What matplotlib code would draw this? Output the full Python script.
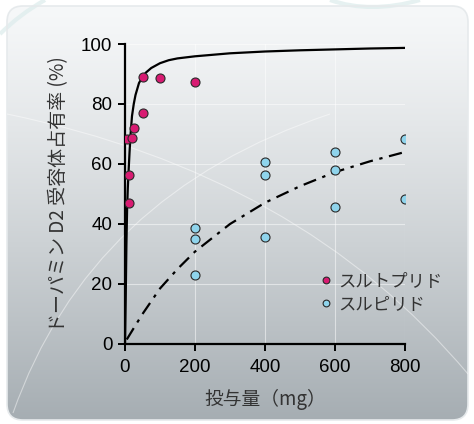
import numpy as np
import matplotlib.pyplot as plt
from matplotlib.patches import FancyBboxPatch, PathPatch
from matplotlib.path import Path

plt.rcParams['font.family'] = ['Liberation Sans', 'Noto Sans CJK JP', 'DejaVu Sans']

# observed occupancy (%) vs dose (mg)
sultopride_dose = [5, 20, 25, 10, 10, 50, 50, 100, 200]
sultopride_occ = [68.2, 68.7, 72.1, 56.2, 47.0, 76.9, 89.1, 88.6, 87.4]
sulpiride_dose = [200, 200, 200, 400, 400, 400, 600, 600, 600, 800, 800]
sulpiride_occ = [38.7, 35.0, 23.1, 60.6, 56.2, 35.6, 64.1, 57.9, 45.7, 68.2, 48.2]

# fitted curves
fit1_dose = [0, 2, 4, 6, 8, 10, 13, 16, 20, 25, 30, 40, 50, 60, 75, 100, 125, 150,
             200, 300, 400, 500, 600, 700, 800]
fit1_occ = [0, 15, 33, 45, 52, 57, 64, 70, 76, 80, 83, 87, 89, 90.5, 92, 93.6, 94.6,
            95.2, 95.9, 96.9, 97.5, 97.9, 98.2, 98.5, 98.7]
fit2_dose = [5, 25, 50, 100, 150, 200, 300, 400, 500, 600, 700, 800]
fit2_occ = [1.5, 5.3, 10.0, 18.5, 25.0, 30.8, 40.0, 47.1, 52.6, 57.3, 60.9, 64.0]

legend_labels = ['スルトプリド', 'スルピリド']
xticks = [0, 200, 400, 600, 800]
yticks = [0, 20, 40, 60, 80, 100]

fig = plt.figure(figsize=(4.74, 4.24), dpi=100, facecolor='white')

# background panel with vertical gradient (pixel coords, y up)
bg = fig.add_axes([0, 0, 1, 1])
bg.set_xlim(0, 474)
bg.set_ylim(0, 424)
bg.axis('off')

# faint decorative strokes outside the panel
for verts in [[(0, 390), (20, 410), (45, 424)], [(330, 424), (370, 410), (420, 424)]]:
    bg.add_patch(PathPatch(Path(verts, [Path.MOVETO, Path.CURVE3, Path.CURVE3]),
                           fc='none', ec='#dcecec', lw=3, alpha=0.7))

panel = FancyBboxPatch((7, 4), 461, 414, boxstyle='round,pad=0,rounding_size=16',
                       fc='none', ec='#e6eaec', lw=1.2)
bg.add_patch(panel)
grad = np.linspace(0, 1, 256).reshape(-1, 1)
top = np.array([0.965, 0.972, 0.976])
bottom = np.array([0.650, 0.680, 0.700])
img = top + (bottom - top) * grad[:, :, None] ** 1.2
im = bg.imshow(img, extent=[7, 468, 4, 418], origin='upper', aspect='auto')
im.set_clip_path(panel)

# light sweeping curves across the panel
for verts in [[(13, 11), (90, 230), (330, 310)], [(7, 310), (300, 250), (468, 50)]]:
    p = PathPatch(Path(verts, [Path.MOVETO, Path.CURVE3, Path.CURVE3]),
                  fc='none', ec='white', lw=0.8, alpha=0.45)
    bg.add_patch(p)
    p.set_clip_path(panel)

ax = fig.add_axes([125 / 474, 80 / 424, 280 / 474, 300 / 424])
ax.patch.set_alpha(0)

ax.plot(fit1_dose, fit1_occ, color='black', lw=1.6, zorder=2)
ax.plot(fit2_dose, fit2_occ, color='black', lw=1.6, ls=(0, (6, 3, 1.5, 3)), zorder=2)
ax.plot(sultopride_dose, sultopride_occ, 'o', ms=6.5, mfc='#d81b72', mec='#2a2a2a',
        mew=0.8, label=legend_labels[0], zorder=3)
ax.plot(sulpiride_dose, sulpiride_occ, 'o', ms=6.5, mfc='#8fd4ec', mec='#2a2a2a',
        mew=0.8, label=legend_labels[1], zorder=3)

ax.set_xlim(0, 800)
ax.set_ylim(0, 100)
ax.set_xticks(xticks)
ax.set_yticks(yticks)
ax.grid(True, color='white', lw=0.8, alpha=0.5)
ax.set_axisbelow(True)
for s in ['top', 'right']:
    ax.spines[s].set_visible(False)
for s in ['left', 'bottom']:
    ax.spines[s].set_linewidth(1.6)
    ax.spines[s].set_color('black')
ax.tick_params(length=5, width=1.4, colors='black')
ax.tick_params(axis='x', pad=6)
ax.tick_params(axis='y', pad=4)
for lab in ax.get_xticklabels() + ax.get_yticklabels():
    lab.set_fontfamily('Liberation Sans')
    lab.set_fontsize(13.5)

ax.set_xlabel('投与量（mg）', fontsize=13.5, color='#333333', labelpad=9,
              family=['Noto Sans CJK JP'])
ax.set_ylabel('ドーパミン D2 受容体占有率 (%)', fontsize=13.7, color='#333333',
              labelpad=9, family=['Noto Sans CJK JP', 'DejaVu Sans'])

leg = ax.legend(loc='lower right', bbox_to_anchor=(1.19, 0.05), frameon=False,
                markerscale=0.75, handlelength=0.6, handletextpad=0.4,
                labelspacing=0.3, prop={'family': 'Noto Sans CJK JP', 'size': 12.5})
for t in leg.get_texts():
    t.set_color('#333333')

fig.savefig('out.png', dpi=100)
